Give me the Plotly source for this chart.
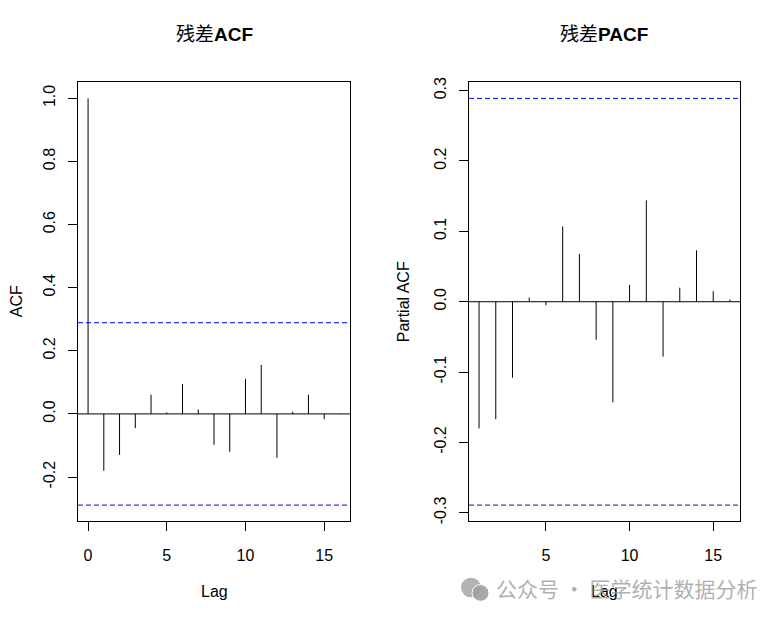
import plotly.graph_objects as go

# residual ACF / PACF (n = 46, ci = 1.96/sqrt(46))
acf_lags = list(range(0, 17))
acf_vals = [1.0, -0.180, -0.130, -0.045, 0.061, 0.005, 0.095, 0.014, -0.098,
            -0.120, 0.111, 0.155, -0.139, 0.007, 0.061, -0.017, 0.001]
pacf_lags = list(range(1, 17))
pacf_vals = [-0.180, -0.167, -0.108, 0.006, -0.005, 0.107, 0.068, -0.054,
             -0.143, 0.024, 0.144, -0.078, 0.020, 0.073, 0.015, 0.003]
ci = 0.289

acf_ticks = [-0.2, 0.0, 0.2, 0.4, 0.6, 0.8, 1.0]
acf_ticktext = ["-0.2", "0.0", "0.2", "0.4", "0.6", "0.8", "1.0"]
pacf_ticks = [-0.3, -0.2, -0.1, 0.0, 0.1, 0.2, 0.3]
pacf_ticktext = ["-0.3", "-0.2", "-0.1", "0.0", "0.1", "0.2", "0.3"]
lag_ticks = [0, 5, 10, 15]

FONT = "Liberation Sans, Arial, Noto Sans CJK SC"
W, H = 781, 621
OFF = 8  # page body margin pushes the plot right/down


def px(x):
    return (x - OFF) / W


def py(y):
    return 1 - (y - OFF) / H


def r_range(vals):
    # R pads the data range by 4% on each side
    lo, hi = min(vals), max(vals)
    pad = (hi - lo) * 0.04
    return [lo - pad, hi + pad]


def spikes(lags, vals):
    xs, ys = [], []
    for l, v in zip(lags, vals):
        xs += [l, l, None]
        ys += [0, v, None]
    return xs, ys


fig = go.Figure()

x, y = spikes(acf_lags, acf_vals)
fig.add_trace(go.Scatter(x=x, y=y, mode="lines", line=dict(color="black", width=1),
                         xaxis="x", yaxis="y", hoverinfo="skip"))
x, y = spikes(pacf_lags, pacf_vals)
fig.add_trace(go.Scatter(x=x, y=y, mode="lines", line=dict(color="black", width=1),
                         xaxis="x2", yaxis="y2", hoverinfo="skip"))

# zero line and confidence bands
for xa, ya in [("x", "y"), ("x2", "y2")]:
    fig.add_shape(type="line", xref=xa + " domain", yref=ya, x0=0, x1=1, y0=0, y1=0,
                  line=dict(color="black", width=1))
    for c in (ci, -ci):
        fig.add_shape(type="line", xref=xa + " domain", yref=ya, x0=0, x1=1, y0=c, y1=c,
                      line=dict(color="#0000ff", width=1, dash="5px,3px"))

axis_common = dict(showline=True, mirror=True, linecolor="black", linewidth=1,
                   showgrid=False, zeroline=False, ticks="outside", ticklen=9,
                   tickcolor="black", tickwidth=1,
                   tickfont=dict(family=FONT, size=16, color="black"))

fig.update_layout(
    width=W, height=H,
    margin=dict(l=0, r=0, t=0, b=0),
    paper_bgcolor="white", plot_bgcolor="white",
    showlegend=False,
    xaxis=dict(domain=[px(78), px(350)], range=r_range(acf_lags),
               tickvals=lag_ticks, ticklabelstandoff=10, anchor="y", **axis_common),
    yaxis=dict(domain=[py(523), py(78)], range=r_range(acf_vals + [ci, -ci]),
               tickvals=acf_ticks, ticktext=acf_ticktext, tickangle=-90,
               ticklabelstandoff=7, anchor="x", **axis_common),
    xaxis2=dict(domain=[px(469), px(740)], range=r_range(pacf_lags),
                tickvals=lag_ticks, ticklabelstandoff=10, anchor="y2", **axis_common),
    yaxis2=dict(domain=[py(523), py(78)], range=r_range(pacf_vals + [ci, -ci]),
                tickvals=pacf_ticks, ticktext=pacf_ticktext, tickangle=-90,
                ticklabelstandoff=7, anchor="x2", **axis_common),
)

txt = dict(family=FONT, size=16, color="black")
title_font = dict(family=FONT, size=19, color="black")
annos = [
    dict(text="残差<b>ACF</b>", x=px(214), y=py(30), font=title_font),
    dict(text="残差<b>PACF</b>", x=px(604), y=py(30), font=title_font),
    dict(text="Lag", x=px(214), y=py(594), font=txt),
    dict(text="Lag", x=px(604), y=py(594), font=txt),
    dict(text="ACF", x=px(16), y=py(300), textangle=-90, font=txt),
    dict(text="Partial ACF", x=px(403), y=py(300), textangle=-90, font=txt),
    # watermark
    dict(text="公众号 · 医学统计数据分析", x=px(626), y=py(591),
         font=dict(family="Noto Sans CJK SC", size=21, color="rgba(150,150,150,0.75)")),
]
for a in annos:
    fig.add_annotation(xref="paper", yref="paper", showarrow=False,
                       xanchor="center", yanchor="middle", **a)

# wechat-style bubbles of the watermark
fig.add_shape(type="circle", xref="paper", yref="paper", x0=px(461), x1=px(481),
              y0=py(600), y1=py(580), line=dict(width=0),
              fillcolor="rgba(160,160,160,0.8)")
fig.add_shape(type="circle", xref="paper", yref="paper", x0=px(472), x1=px(489),
              y0=py(604), y1=py(587), line=dict(color="white", width=1),
              fillcolor="rgba(160,160,160,0.9)")

fig.write_html("out.html")
